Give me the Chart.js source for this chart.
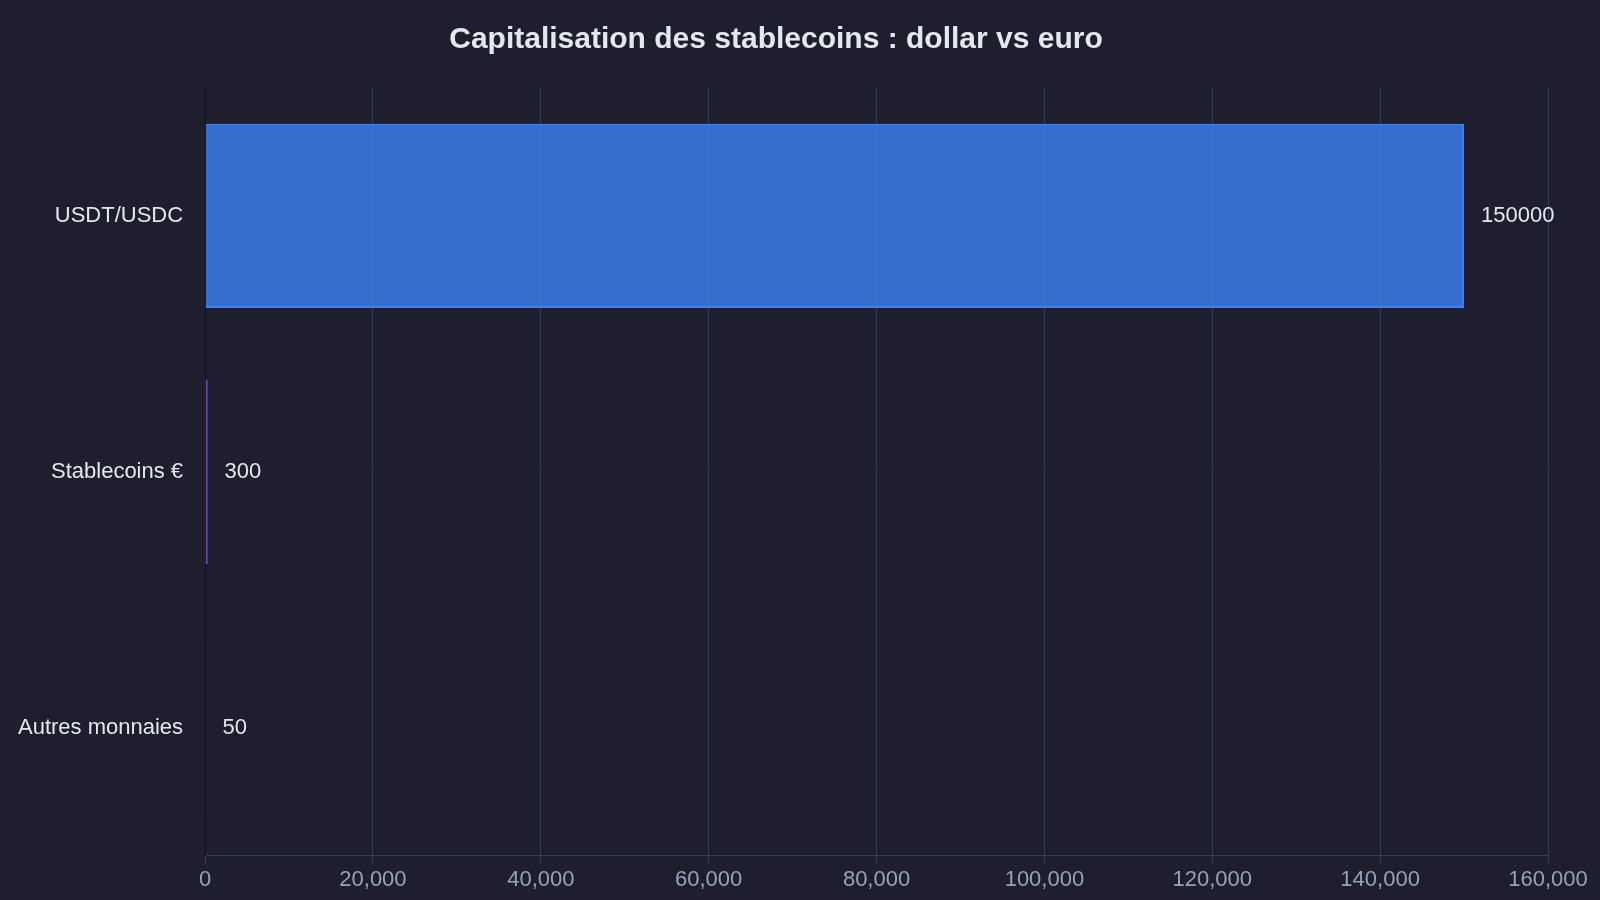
<!DOCTYPE html>
<html><head><meta charset="utf-8">
<script src="https://cdn.jsdelivr.net/npm/chart.js@4/dist/chart.umd.min.js"></script>
<style>html,body{margin:0;background:#1e1e2e}#wrap{width:1600px;height:900px}</style>
</head><body><div id="wrap"><canvas id="c"></canvas></div>
<script>
const categories = ['USDT/USDC', 'Stablecoins €', 'Autres monnaies'];
const values = [150000, 300, 50];
const barColors = ['rgba(59,130,246,0.8)', 'rgba(139,92,246,0.8)', 'rgba(20,184,166,0.8)'];
const borderColors = ['#3b82f6', '#8b5cf6', '#14b8a6'];

const valueLabels = {
  id: 'valueLabels',
  afterDatasetsDraw(chart) {
    const { ctx } = chart;
    ctx.save();
    ctx.fillStyle = '#e2e8f0';
    ctx.font = '22px "Liberation Sans", Arial, sans-serif';
    ctx.textBaseline = 'middle';
    chart.getDatasetMeta(0).data.forEach((bar, i) => {
      ctx.fillText(String(values[i]), bar.x + 17, bar.y);
    });
    ctx.restore();
  }
};

new Chart(document.getElementById('c'), {
  type: 'bar',
  data: {
    labels: categories,
    datasets: [{ data: values, backgroundColor: barColors, borderColor: borderColors, borderWidth: 2, categoryPercentage: 0.72, barPercentage: 1 }]
  },
  options: {
    indexAxis: 'y',
    responsive: true,
    maintainAspectRatio: false,
    animation: false,
    layout: { padding: { left: 4, right: 52, top: 6, bottom: 4 } },
    plugins: {
      legend: { display: false },
      tooltip: { enabled: false },
      title: {
        display: true,
        text: 'Capitalisation des stablecoins : dollar vs euro',
        color: '#e2e8f0',
        font: { family: '"Liberation Sans", Arial, sans-serif', size: 30, weight: 'bold' },
        padding: { top: 16, bottom: 30 }
      }
    },
    scales: {
      x: {
        min: 0, max: 160000,
        ticks: { stepSize: 20000, color: '#94a3b8', font: { family: '"Liberation Sans", Arial, sans-serif', size: 22 } },
        grid: { color: '#334155' },
        border: { color: '#334155' }
      },
      y: {
        ticks: { color: '#e2e8f0', padding: 14, font: { family: '"Liberation Sans", Arial, sans-serif', size: 22 } },
        grid: { display: false },
        border: { color: '#111' }
      }
    }
  },
  plugins: [valueLabels]
});
</script></body></html>
